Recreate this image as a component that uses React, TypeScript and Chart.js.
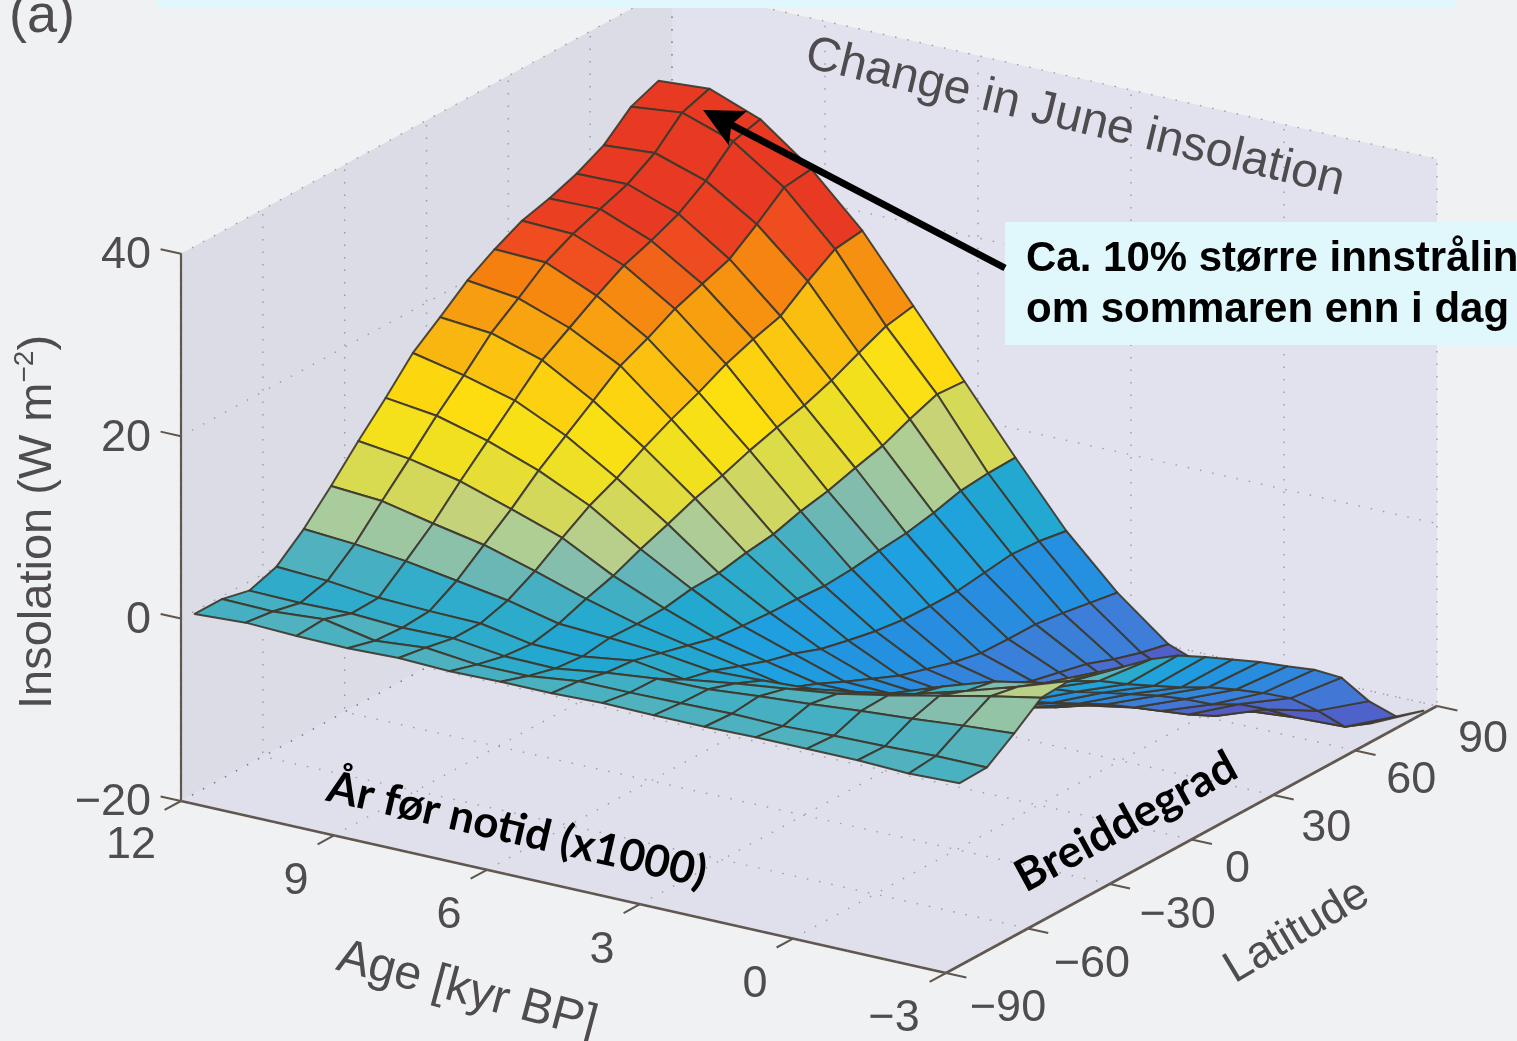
import React, { useEffect, useRef } from "react";
import { Chart, registerables } from "chart.js";

Chart.register(...registerables);

const ages = [12, 11, 10, 9, 8, 7, 6, 5, 4, 3, 2, 1, 0, -1, -2, -3];
const latitudes = [-85, -75, -65, -55, -45, -35, -25, -15, -5, 5, 15, 25, 35, 45, 55, 65, 75, 85];

const age12 = [-0.3, -0.3, -1, 0, 2.5, 5.6, 8.9, 12, 15.3, 17.6, 20, 21.8, 23.3, 24.1, 25.2, 26.7, 29.3, 30.5];
const age11 = [0, -0.4, -1.1, -0.3, 2.1, 5.2, 8.2, 11.3, 14.1, 17.1, 19.3, 21.6, 23.1, 24.2, 25.3, 27.1, 29.9, 30.9];
const age10 = [-0.2, 0, -1, -0.9, 1.5, 4, 7, 9.8, 12.6, 15.4, 17.3, 19.2, 20.9, 22, 23.3, 25.3, 28, 28.8];
const age9 = [-0.3, -1.1, -1.3, -1.1, 0.6, 2.9, 5.2, 7.8, 10, 12.2, 14.4, 15.8, 17.4, 18.5, 19.6, 21.8, 24.2, 24.6];
const age8 = [-0.1, -0.6, -1.2, -1.2, -0.3, 1.3, 3.3, 5.2, 6.6, 8.3, 9.8, 11.1, 12.6, 13.7, 14.6, 16.8, 18.7, 19.1];
const age7 = [-0.3, -1.2, -1.9, -2.2, -1.6, -0.5, 0.4, 1.7, 2.8, 4, 4.9, 6, 6.9, 7.7, 8.8, 10.2, 11.5, 12.1];
const age6 = [-0.2, -1.2, -2, -2.3, -1.9, -2, -1.9, -1.4, -1.3, -0.7, -0.3, 0.6, 1.2, 2.1, 2.9, 4.2, 5.3, 5.1];
const age5 = [-0.2, -0.5, -1.2, -1.5, -2.3, -3.1, -3.9, -4.2, -4.4, -4.5, -4.7, -4.5, -4.1, -3.8, -3.2, -2.4, -2.1, -2];
const age4 = [0, -0.5, -0.6, -2.3, -3, -4.1, -5.2, -6, -7.1, -7.8, -8.4, -8.8, -8.9, -8.9, -8.5, -8.1, -8.3, -8.8];
const age3 = [-0.1, -0.4, -0.5, -1.5, -2.8, -5.2, -6.4, -7.8, -9.1, -10.4, -11.3, -12.2, -12.8, -12.9, -12.9, -13.3, -13.8, -14.3];
const age2 = [-0.1, -0.3, 0, -0.8, -2.5, -4.5, -6.4, -8, -9.6, -11.1, -12.4, -13.5, -14.6, -15.3, -16, -17.1, -18, -18.7];
const age1 = [0, -0.4, 0.4, -0.1, -1.6, -3.3, -5.5, -7.5, -9.5, -11.3, -13, -14.6, -16, -17.5, -18.8, -20, -20.5, -20.8];
const age0 = [0, -0.2, 0.9, 1, -0.5, -1.3, -3.7, -5.8, -7.8, -9.6, -11.3, -13, -15, -17, -19, -20.8, -21.8, -22];
const ageM1 = [0, -0.1, 1.3, 2.2, 1.1, 0.5, -1.5, -3.5, -5.5, -7.2, -9, -10.8, -12.8, -15, -16.6, -18.8, -21.3, -22.5];
const ageM2 = [-0.2, 0.1, 1.8, 3.4, 2.8, 1.6, 0.2, -1.4, -3.4, -5.2, -7, -8.6, -10.5, -12.5, -14.7, -17.7, -21.1, -22.3];
const ageM3 = [0, 0.1, 2.2, 4.5, 4.7, 4, 3, 2.2, 1, -0.8, -2.7, -4.6, -6.7, -8.7, -11.2, -15.4, -18.7, -19.7];
const insolation = [age12, age11, age10, age9, age8, age7, age6, age5, age4, age3, age2, age1, age0, ageM1, ageM2, ageM3];

const zTicks = [40, 20, 0, -20];
const ageTicks = [12, 9, 6, 3, 0, -3];
const latTicks = [-90, -60, -30, 0, 30, 60, 90];

const colorStops: [number, number[]][] = [
  [-23, [92, 76, 182]],
  [-18, [80, 96, 200]],
  [-14, [63, 124, 216]],
  [-8, [36, 144, 224]],
  [-4, [31, 160, 224]],
  [-2, [34, 168, 208]],
  [-1, [48, 172, 202]],
  [0, [80, 178, 190]],
  [1, [124, 186, 176]],
  [2.5, [168, 204, 156]],
  [4, [196, 210, 122]],
  [5.6, [216, 218, 80]],
  [8, [240, 224, 32]],
  [11, [253, 224, 16]],
  [14, [251, 196, 16]],
  [17, [248, 164, 16]],
  [20, [245, 128, 16]],
  [21.5, [240, 80, 32]],
  [24, [232, 58, 34]],
];

function colorFor(z: number) {
  if (z <= colorStops[0][0]) return `rgb(${colorStops[0][1].join(",")})`;
  for (let k = 1; k < colorStops.length; k++) {
    const [z1, c1] = colorStops[k];
    if (z <= z1) {
      const [z0, c0] = colorStops[k - 1];
      const t = (z - z0) / (z1 - z0);
      return `rgb(${c0.map((c, n) => Math.round(c + (c1[n] - c) * t)).join(",")})`;
    }
  }
  return `rgb(${colorStops[colorStops.length - 1][1].join(",")})`;
}

function project(age: number, lat: number, z: number) {
  const a = (12 - age) / 15;
  const l = (lat + 90) / 180;
  return { x: 181 + 765 * a + 491 * l, y: 801 + 172 * a - 267 * l - (z + 20) * 9.12 };
}

function pathOf(ctx: CanvasRenderingContext2D, chart: any, pts: { x: number; y: number }[]) {
  const sx = chart.scales.x;
  const sy = chart.scales.y;
  ctx.beginPath();
  pts.forEach((p, i) => {
    const X = sx.getPixelForValue(p.x);
    const Y = sy.getPixelForValue(p.y);
    if (i === 0) ctx.moveTo(X, Y);
    else ctx.lineTo(X, Y);
  });
  ctx.closePath();
}

const backdropPlugin = {
  id: "backdrop",
  beforeDatasetsDraw(chart: any) {
    const ctx: CanvasRenderingContext2D = chart.ctx;
    ctx.save();
    ctx.fillStyle = "#eff1f3";
    ctx.fillRect(0, 0, chart.width, chart.height);
    const top = 40;
    const bottom = -20;
    pathOf(ctx, chart, [project(12, -90, bottom), project(12, -90, top), project(12, 90, top), project(12, 90, bottom)]);
    ctx.fillStyle = "#dcdce7";
    ctx.fill();
    pathOf(ctx, chart, [project(12, 90, bottom), project(12, 90, top), project(-3, 90, top), project(-3, 90, bottom)]);
    ctx.fillStyle = "#e2e1ee";
    ctx.fill();
    pathOf(ctx, chart, [project(12, -90, bottom), project(12, 90, bottom), project(-3, 90, bottom), project(-3, -90, bottom)]);
    ctx.fillStyle = "#e0e0ec";
    ctx.fill();
    ctx.restore();
  },
};

const surfacePlugin = {
  id: "surface",
  afterDatasetsDraw(chart: any) {
    const ctx: CanvasRenderingContext2D = chart.ctx;
    const idx = chart.data.datasets.findIndex((d: any) => d.label === "Change in June insolation");
    const nodes = chart.getDatasetMeta(idx).data;
    const n = latitudes.length;
    ctx.save();
    ctx.lineJoin = "round";
    ctx.lineWidth = 2;
    ctx.strokeStyle = "rgba(62,58,46,0.92)";
    for (let i = 0; i < ages.length - 1; i++) {
      for (let j = n - 2; j >= 0; j--) {
        const a = nodes[i * n + j];
        const b = nodes[i * n + j + 1];
        const c = nodes[(i + 1) * n + j + 1];
        const d = nodes[(i + 1) * n + j];
        ctx.beginPath();
        ctx.moveTo(a.x, a.y);
        ctx.lineTo(b.x, b.y);
        ctx.lineTo(c.x, c.y);
        ctx.lineTo(d.x, d.y);
        ctx.closePath();
        ctx.fillStyle = colorFor(insolation[i][j]);
        ctx.fill();
        ctx.stroke();
      }
    }
    ctx.restore();
  },
};

function drawText(
  ctx: CanvasRenderingContext2D,
  text: string,
  x: number,
  y: number,
  font: string,
  color: string,
  angle = 0,
  align: CanvasTextAlign = "center",
) {
  ctx.save();
  ctx.translate(x, y);
  ctx.rotate((angle * Math.PI) / 180);
  ctx.font = font;
  ctx.fillStyle = color;
  ctx.textAlign = align;
  ctx.textBaseline = "middle";
  ctx.fillText(text, 0, 0);
  ctx.restore();
}

const labelPlugin = {
  id: "labels",
  afterDraw(chart: any) {
    const ctx: CanvasRenderingContext2D = chart.ctx;
    const grey = "#4e4c4e";
    const tickFont = '45px "Liberation Sans"';
    const px = (p: { x: number; y: number }) => ({
      x: chart.scales.x.getPixelForValue(p.x),
      y: chart.scales.y.getPixelForValue(p.y),
    });

    zTicks.forEach((z) => {
      const p = px(project(12, -90, z));
      drawText(ctx, String(z).replace("-", "\u2212"), p.x - 30, p.y + 2, tickFont, grey, 0, "right");
    });
    ageTicks.forEach((age) => {
      const p = px(project(age, -90, -20));
      const text = String(age).replace("-", "\u2212");
      const dx = age === -3 ? -52 : age === 12 ? -50 : -38;
      drawText(ctx, text, p.x + dx, p.y + (age === 12 ? 45 : 46), tickFont, grey);
    });
    const latDx: Record<number, number> = { [-90]: 62, [-60]: 64, [-30]: 68, 0: 46, 30: 53, 60: 56, 90: 46 };
    const latDy: Record<number, number> = { [-90]: 36, [-60]: 36, [-30]: 32, 0: 30, 30: 34, 60: 30, 90: 34 };
    latTicks.forEach((lat) => {
      const p = px(project(-3, lat, -20));
      const text = String(lat).replace("-", "\u2212");
      drawText(ctx, text, p.x + latDx[lat], p.y + latDy[lat], tickFont, grey);
    });

    drawText(ctx, "(a)", 42, 17, '54px "Liberation Sans"', grey);
    drawText(ctx, "Change in June insolation", 1075, 118, '48px "Liberation Sans"', "#4e4c4e", 13.5);
    drawText(ctx, "Age [kyr BP]", 467, 991, '48px "Liberation Sans"', grey, 15);
    drawText(ctx, "Latitude", 1297, 932, '45px "Liberation Sans"', grey, -31);

    ctx.save();
    ctx.translate(38, 709);
    ctx.rotate(-Math.PI / 2);
    ctx.font = '47px "Liberation Sans"';
    ctx.fillStyle = grey;
    ctx.textBaseline = "middle";
    ctx.textAlign = "left";
    const main = "Insolation (W m";
    ctx.fillText(main, 0, 0);
    const w = ctx.measureText(main).width;
    ctx.font = '28px "Liberation Sans"';
    ctx.fillText("\u22122", w, -13);
    const w2 = ctx.measureText("\u22122").width;
    ctx.font = '47px "Liberation Sans"';
    ctx.fillText(")", w + w2, 0);
    ctx.restore();

    drawText(ctx, "\u00c5r f\u00f8r notid (x1000)", 517, 830, "bold 44px Lato", "#000000", 13);
    drawText(ctx, "Breiddegrad", 1126, 822, "bold 45px Lato", "#000000", -28.5);

    ctx.save();
    ctx.fillStyle = "#dff7fd";
    ctx.fillRect(157, 0, 1298, 8);
    ctx.fillStyle = "#e0f7fc";
    ctx.fillRect(1005, 222, 512, 123);
    ctx.restore();
    drawText(ctx, "Ca. 10% st\u00f8rre innstr\u00e5ling", 1026, 259, 'bold 42px "Liberation Sans"', "#000", 0, "left");
    drawText(ctx, "om sommaren enn i dag", 1026, 310, 'bold 42px "Liberation Sans"', "#000", 0, "left");

    const from = { x: 1005, y: 268 };
    const to = { x: 703, y: 110 };
    const ang = Math.atan2(to.y - from.y, to.x - from.x);
    ctx.save();
    ctx.strokeStyle = "#000";
    ctx.fillStyle = "#000";
    ctx.lineWidth = 7;
    ctx.beginPath();
    ctx.moveTo(from.x, from.y);
    ctx.lineTo(to.x - 30 * Math.cos(ang), to.y - 30 * Math.sin(ang));
    ctx.stroke();
    ctx.beginPath();
    ctx.moveTo(to.x, to.y);
    ctx.lineTo(to.x - 44 * Math.cos(ang - 0.46), to.y - 44 * Math.sin(ang - 0.46));
    ctx.lineTo(to.x - 32 * Math.cos(ang), to.y - 32 * Math.sin(ang));
    ctx.lineTo(to.x - 44 * Math.cos(ang + 0.46), to.y - 44 * Math.sin(ang + 0.46));
    ctx.closePath();
    ctx.fill();
    ctx.restore();
  },
};

function segment(label: string, pts: { x: number; y: number }[], color: string, width: number, dash: number[]) {
  return {
    type: "line",
    label,
    data: pts,
    borderColor: color,
    borderWidth: width,
    borderDash: dash,
    pointRadius: 0,
    fill: false,
    tension: 0,
    parsing: false,
  };
}

function buildDatasets() {
  const sets: any[] = [];
  const dot = "rgba(120,105,115,0.6)";
  const dash = [1.5, 11];
  zTicks.forEach((z) => {
    sets.push(segment(`z ${z}`, [project(12, -90, z), project(12, 90, z), project(-3, 90, z)], dot, 1.4, dash));
  });
  latTicks.forEach((lat) => {
    sets.push(segment(`lat ${lat}`, [project(-3, lat, -20), project(12, lat, -20), project(12, lat, 40)], dot, 1.4, dash));
  });
  ageTicks.forEach((age) => {
    sets.push(segment(`age ${age}`, [project(age, -90, -20), project(age, 90, -20), project(age, 90, 40)], dot, 1.4, dash));
  });
  const axis = "#5f564e";
  sets.push(segment("z axis", [project(12, -90, -20), project(12, -90, 40)], axis, 2.2, []));
  sets.push(segment("age axis", [project(12, -90, -20), project(-3, -90, -20)], axis, 2.6, []));
  sets.push(segment("lat axis", [project(-3, -90, -20), project(-3, 90, -20)], axis, 2.6, []));
  zTicks.forEach((z) => {
    sets.push(segment(`z tick ${z}`, [project(12, -90, z), project(12.4, -90, z)], axis, 2, []));
  });
  ageTicks.forEach((age) => {
    sets.push(segment(`age tick ${age}`, [project(age, -90, -20), project(age, -96, -20)], axis, 2, []));
  });
  latTicks.forEach((lat) => {
    sets.push(segment(`lat tick ${lat}`, [project(-3, lat, -20), project(-3.4, lat, -20)], axis, 2, []));
  });
  const nodes: { x: number; y: number }[] = [];
  ages.forEach((age, i) => {
    latitudes.forEach((lat, j) => {
      nodes.push(project(age, lat, insolation[i][j]));
    });
  });
  sets.push({
    type: "scatter",
    label: "Change in June insolation",
    data: nodes,
    pointRadius: 0,
    showLine: false,
    parsing: false,
  });
  return sets;
}

export default function App() {
  const ref = useRef<HTMLCanvasElement>(null);
  useEffect(() => {
    document.body.style.margin = "0";
    document.body.style.overflow = "hidden";
    const chart = new Chart(ref.current as HTMLCanvasElement, {
      type: "scatter",
      data: { datasets: buildDatasets() },
      plugins: [backdropPlugin, surfacePlugin, labelPlugin],
      options: {
        animation: false,
        responsive: false,
        events: [],
        layout: { padding: 0 },
        plugins: { legend: { display: false }, tooltip: { enabled: false } },
        scales: {
          x: { type: "linear", min: 0, max: 1517, display: false },
          y: { type: "linear", min: 0, max: 1041, reverse: true, display: false },
        },
      },
    } as any);
    return () => chart.destroy();
  }, []);
  return <canvas ref={ref} width={1517} height={1041} style={{ display: "block" }} />;
}
